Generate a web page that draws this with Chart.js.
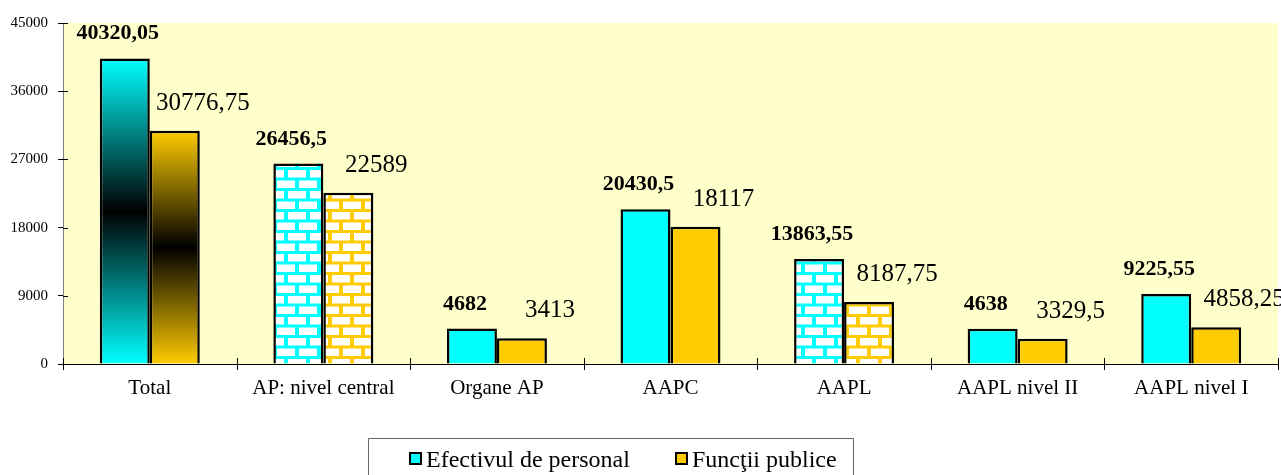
<!DOCTYPE html>
<html>
<head>
<meta charset="utf-8">
<script src="https://cdn.jsdelivr.net/npm/chart.js@4.4.1/dist/chart.umd.min.js"></script>
<style>
  html, body { margin: 0; padding: 0; background: #ffffff; }
  #wrap { width: 1281px; height: 475px; position: relative; }
</style>
</head>
<body>
<div id="wrap"><canvas id="c" width="1281" height="475"></canvas></div>
<script>
const categories = ['Total', 'AP: nivel central', 'Organe AP', 'AAPC', 'AAPL', 'AAPL nivel II', 'AAPL nivel I'];
const efectivPersonal = [40320.05, 26456.5, 4682, 20430.5, 13863.55, 4638, 9225.55];
const functiiPublice = [30776.75, 22589, 3413, 18117, 8187.75, 3329.5, 4858.25];
const seriesNames = ['Efectivul de personal', 'Funcţii publice'];
const yTicks = [0, 9000, 18000, 27000, 36000, 45000];

const CYAN = '#00FFFF';
const GOLD = '#FFCC00';
const FONT = "'Liberation Serif', 'Times New Roman', serif";
const gradientCats = ['Total'];
const brickCats = ['AP: nivel central', 'AAPL'];

function brickPattern(mortar) {
  const c = document.createElement('canvas');
  const w = 22, h = 21;
  c.width = w; c.height = h;
  const g = c.getContext('2d');
  g.fillStyle = mortar;
  g.fillRect(0, 0, w, h);
  g.fillStyle = '#ffffff';
  g.fillRect(2, 2, 18, 7.5);
  g.fillRect(-9, 12.5, 18, 7.5);
  g.fillRect(13, 12.5, 18, 7.5);
  return g.createPattern(c, 'repeat');
}

function makeFill(base) {
  return function (ctx) {
    const chart = ctx.chart;
    const cat = categories[ctx.dataIndex];
    if (brickCats.includes(cat)) {
      return brickPattern(base);
    }
    if (gradientCats.includes(cat)) {
      const ys = chart.scales && chart.scales.y;
      if (!ys || !chart.chartArea) return base;
      const top = ys.getPixelForValue(ctx.raw);
      const bot = ys.getPixelForValue(0);
      if (!isFinite(top) || !isFinite(bot) || top === bot) return base;
      const gr = chart.ctx.createLinearGradient(0, top, 0, bot);
      gr.addColorStop(0, base);
      gr.addColorStop(0.5, '#000000');
      gr.addColorStop(1, base);
      return gr;
    }
    return base;
  };
}

const bgPlugin = {
  id: 'plotBg',
  beforeDraw(chart) {
    const a = chart.chartArea;
    const g = chart.ctx;
    g.save();
    g.fillStyle = '#FFFFCC';
    g.fillRect(a.left, a.top, a.right - a.left, a.bottom - a.top);
    g.restore();
  }
};

const innerTicks = {
  id: 'innerTicks',
  afterDraw(chart) {
    const g = chart.ctx;
    g.save();
    g.strokeStyle = '#000';
    g.lineWidth = 1;
    const ys = chart.scales.y;
    const a = chart.chartArea;
    ys.ticks.forEach((t, i) => {
      const y = Math.round(ys.getPixelForTick(i)) + 0.5;
      g.beginPath(); g.moveTo(a.left, y); g.lineTo(a.left + 5, y); g.stroke();
    });
    for (let i = 0; i <= categories.length; i++) {
      const x = Math.round(a.left + (a.right - a.left) * i / categories.length) + 0.5;
      g.beginPath(); g.moveTo(x, a.bottom - 6); g.lineTo(x, a.bottom + 6); g.stroke();
    }
    g.restore();
  }
};

function fmt(v) { return String(v).replace('.', ','); }

const labelsPlugin = {
  id: 'barLabels',
  afterDatasetsDraw(chart) {
    const g = chart.ctx;
    g.save();
    g.fillStyle = '#000';
    g.textAlign = 'center';
    g.textBaseline = 'alphabetic';
    chart.data.datasets.forEach((ds, di) => {
      const meta = chart.getDatasetMeta(di);
      g.font = di === 0 ? 'bold 22px ' + FONT : '25px ' + FONT;
      const dx = di === 0 ? -7 : 28;
      const dy = di === 0 ? 19 : 21;
      meta.data.forEach((el, i) => {
        g.fillText(fmt(ds.data[i]), el.x + dx, el.y - dy);
      });
    });
    g.restore();
  }
};

const legendPlugin = {
  id: 'boxLegend',
  afterDraw(chart) {
    const g = chart.ctx;
    g.save();
    const boxL = 368, boxT = 438.5, boxR = 853;
    g.strokeStyle = '#666';
    g.lineWidth = 1;
    g.beginPath();
    g.moveTo(boxL + 0.5, 476); g.lineTo(boxL + 0.5, boxT); g.lineTo(boxR + 0.5, boxT); g.lineTo(boxR + 0.5, 476);
    g.stroke();
    g.font = '24px ' + FONT;
    g.textBaseline = 'alphabetic';
    g.textAlign = 'left';
    const items = [
      { x: 410, color: CYAN, text: seriesNames[0] },
      { x: 676, color: GOLD, text: seriesNames[1] }
    ];
    items.forEach(it => {
      g.fillStyle = it.color;
      g.fillRect(it.x, 453, 11, 11);
      g.strokeStyle = '#000';
      g.lineWidth = 2;
      g.strokeRect(it.x, 453, 11, 11);
      g.fillStyle = '#000';
      g.fillText(it.text, it.x + 16, 467);
    });
    g.restore();
  }
};

new Chart(document.getElementById('c'), {
  type: 'bar',
  data: {
    labels: categories,
    datasets: [
      {
        label: seriesNames[0],
        data: efectivPersonal,
        backgroundColor: makeFill(CYAN),
        borderColor: '#000',
        borderWidth: 2.5,
        categoryPercentage: 0.576,
        barPercentage: 1
      },
      {
        label: seriesNames[1],
        data: functiiPublice,
        backgroundColor: makeFill(GOLD),
        borderColor: '#000',
        borderWidth: 2.5,
        categoryPercentage: 0.576,
        barPercentage: 1
      }
    ]
  },
  options: {
    responsive: false,
    animation: false,
    devicePixelRatio: 1,
    layout: { padding: { left: 0, right: 3, top: 23, bottom: 0 } },
    plugins: {
      legend: { display: false },
      tooltip: { enabled: false }
    },
    scales: {
      x: {
        afterFit(s) { s.height = 111; },
        grid: { display: true, drawOnChartArea: false, drawTicks: false, offset: true },
        border: { display: true, color: '#000', width: 1 },
        ticks: { color: '#000', font: { family: FONT, size: 21 }, padding: 12, maxRotation: 0, autoSkip: false }
      },
      y: {
        min: 0, max: 45000,
        afterFit(s) { s.width = 63; },
        afterBuildTicks(s) { s.ticks = yTicks.map(v => ({ value: v })); },
        grid: { display: true, drawOnChartArea: false, drawTicks: true, tickLength: 5, color: '#000' },
        border: { display: true, color: '#808080', width: 1 },
        ticks: { color: '#000', font: { family: FONT, size: 15 }, padding: 10, callback: v => String(v) }
      }
    }
  },
  plugins: [bgPlugin, labelsPlugin, innerTicks, legendPlugin]
});
</script>
</body>
</html>
